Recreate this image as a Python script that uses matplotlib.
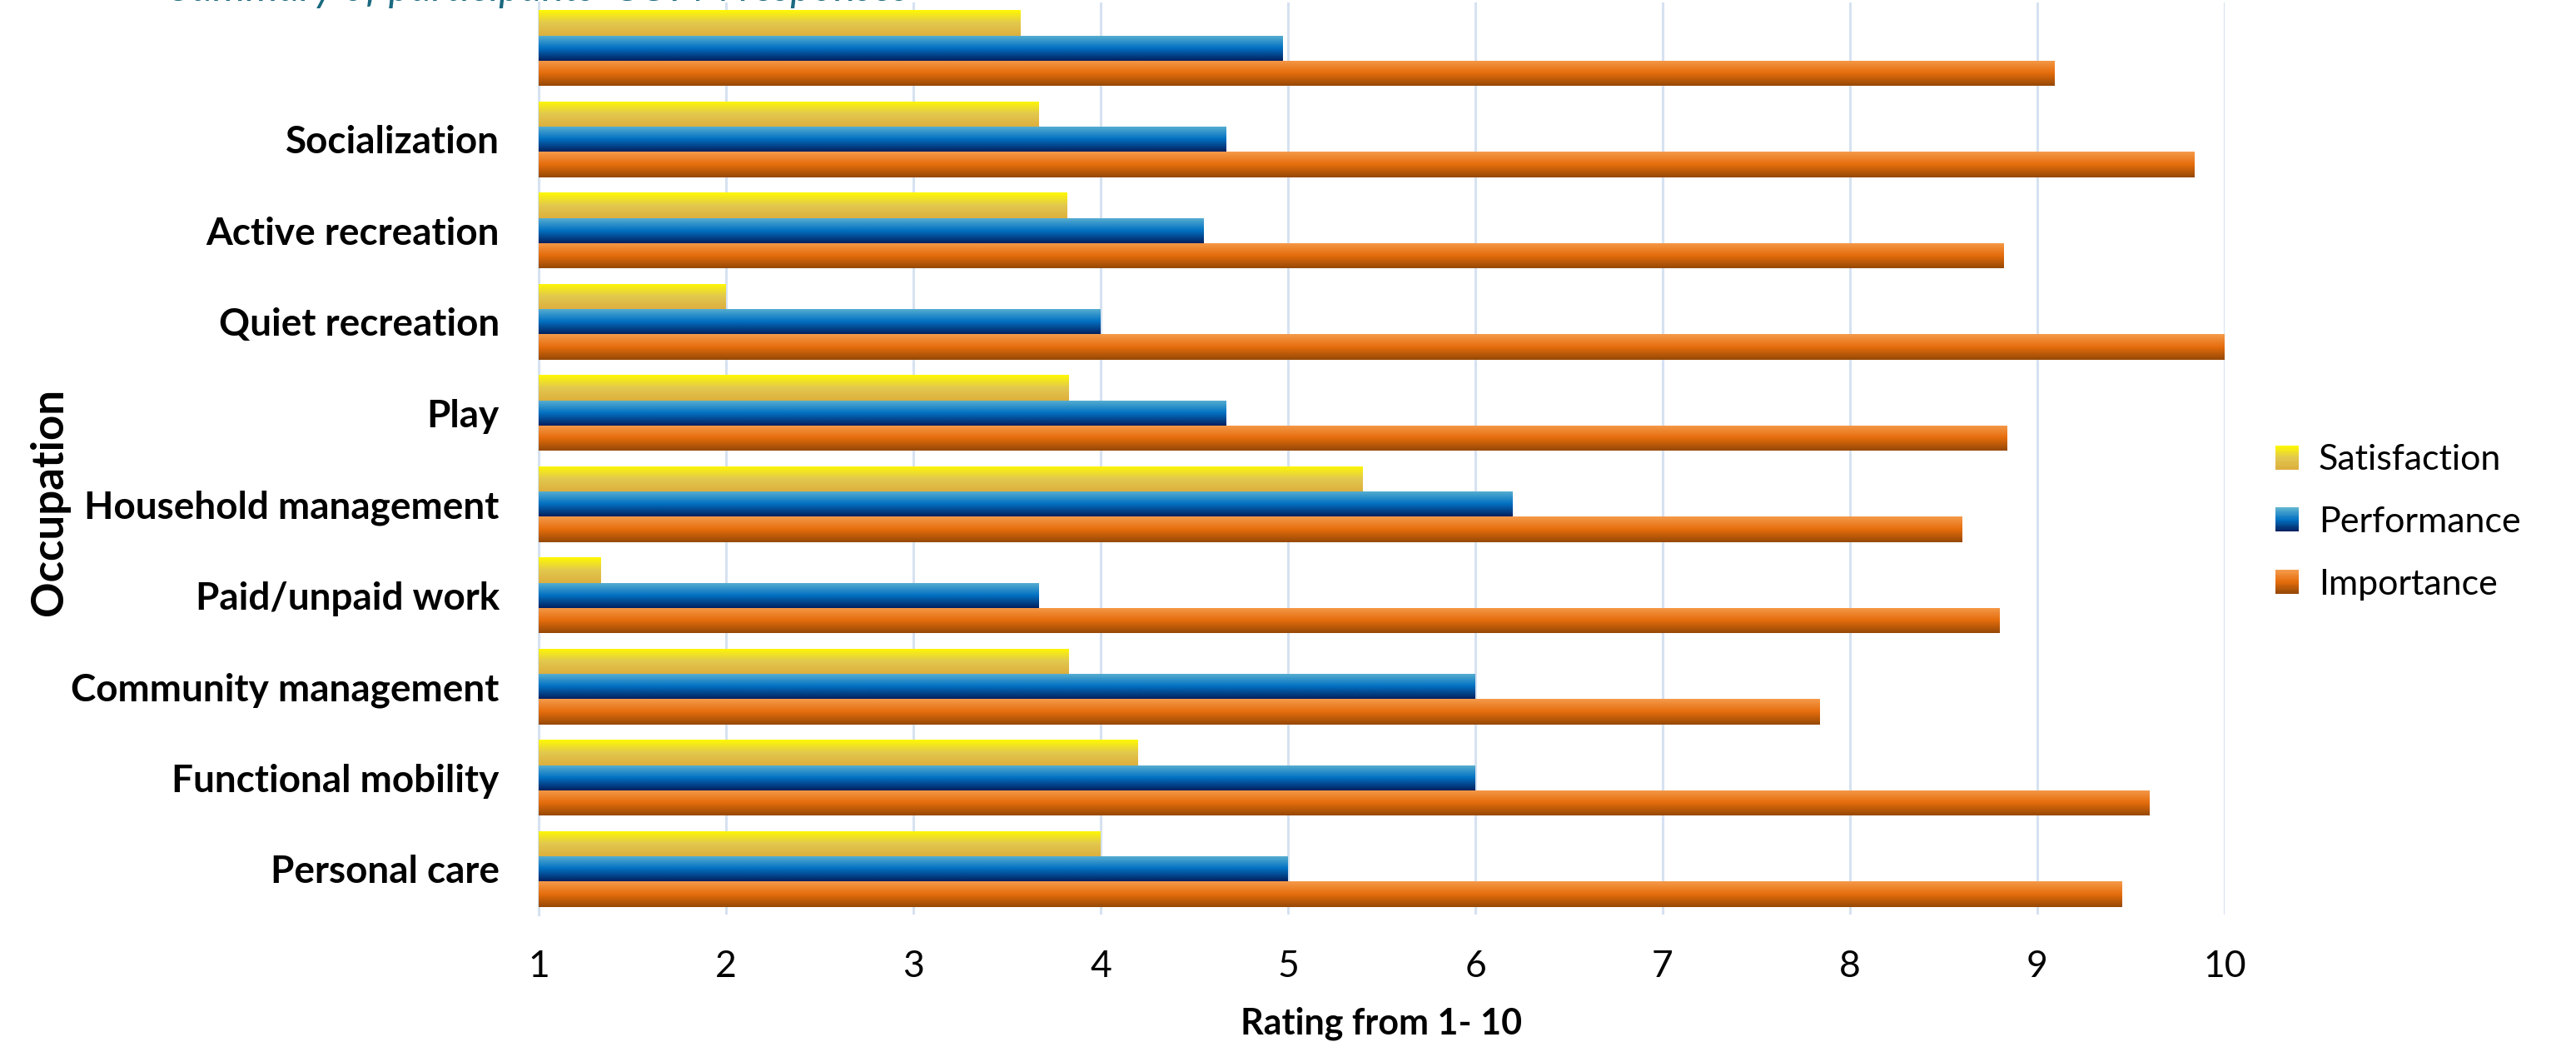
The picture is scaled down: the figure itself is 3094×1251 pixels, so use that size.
import numpy as np
import matplotlib
matplotlib.use("Agg")
import matplotlib.pyplot as plt
from matplotlib.colors import LinearSegmentedColormap
from matplotlib.patches import Patch, Rectangle
from matplotlib.legend_handler import HandlerBase

# COPM ratings per occupation area (listed top to bottom)
occupations = ["", "Socialization", "Active recreation", "Quiet recreation", "Play",
               "Household management", "Paid/unpaid work", "Community management",
               "Functional mobility", "Personal care"]
satisfaction = [3.57, 3.67, 3.82, 2.00, 3.83, 5.40, 1.33, 3.83, 4.20, 4.00]
performance = [4.97, 4.67, 4.55, 4.00, 4.67, 6.20, 3.67, 6.00, 6.00, 5.00]
importance = [9.09, 9.84, 8.82, 10.00, 8.84, 8.60, 8.80, 7.84, 9.60, 9.45]
series_names = ["Satisfaction", "Performance", "Importance"]
x_ticks = list(range(1, 11))

title_text = "Summary of participants' COPM responses"
x_title = "Rating from 1- 10"
y_title = "Occupation"

FONT = ["Lato", "DejaVu Sans"]
plt.rcParams["font.family"] = FONT

# vertical gradient stops (top -> bottom) for each series
gradients = {
    "Satisfaction": ["#FFF900", "#E2C84E", "#DDAF3E"],
    "Performance": ["#5CB2D1", "#0371C3", "#03205E"],
    "Importance": ["#F59B4B", "#E56D0C", "#954806"],
}


class GradientSquareHandler(HandlerBase):
    """Legend key drawn as a small square with a vertical gradient."""

    def create_artists(self, legend, orig_handle, xdescent, ydescent,
                       width, height, fontsize, trans):
        cmap = orig_handle.gradient_cmap
        steps = 24
        artists = []
        for i in range(steps):
            frac = i / (steps - 1)
            y = -ydescent + height * (1 - (i + 1) / steps)
            r = Rectangle((-xdescent, y), width, height / steps + 0.05,
                          facecolor=cmap(frac), edgecolor="none",
                          transform=trans)
            artists.append(r)
        return artists


W, H = 3094, 1251
DPI = 200
fig = plt.figure(figsize=(W / DPI, H / DPI), dpi=DPI)
left_px, right_px, top_px, bottom_px = 647, 2672, 3, 1098
ax = fig.add_axes([left_px / W, 1 - bottom_px / H,
                   (right_px - left_px) / W, (bottom_px - top_px) / H])

n = len(occupations)
pos = np.arange(n)
bar_h = 0.276
offsets = [-bar_h, 0.0, bar_h]
series_values = [satisfaction, performance, importance]
axis_min = x_ticks[0]

handles = []
for name, vals, off in zip(series_names, series_values, offsets):
    stops = gradients[name]
    cmap = LinearSegmentedColormap.from_list(name, stops)
    # bars grow from the axis minimum up to each rating
    bars = ax.barh(pos + off, np.asarray(vals) - axis_min, left=axis_min,
                   height=bar_h, color=stops[1], linewidth=0, zorder=2)
    grad = np.linspace(0, 1, 256).reshape(-1, 1)
    for p in bars:
        x0, w = p.get_x(), p.get_width()
        y0, hh = p.get_y(), p.get_height()
        im = ax.imshow(grad, extent=(x0, x0 + w, y0 + hh, y0), origin="upper",
                       aspect="auto", cmap=cmap, interpolation="bilinear",
                       zorder=3)
        im.set_clip_path(p)
    key = Patch(facecolor=stops[1], edgecolor="none")
    key.gradient_cmap = cmap
    handles.append(key)

ax.set_xlim(x_ticks[0], x_ticks[-1])
ax.set_ylim(n - 0.5, -0.5)
ax.set_xticks(x_ticks)
ax.set_xticklabels([str(t) for t in x_ticks], fontsize=16)
ax.set_yticks(pos)
ax.set_yticklabels(occupations, fontsize=16.5, fontweight="bold")
ax.tick_params(axis="both", length=0)
ax.tick_params(axis="x", pad=15)
ax.tick_params(axis="y", pad=17)

ax.set_axisbelow(True)
ax.grid(axis="x", color="#D6E2F1", linewidth=1.1)
ax.grid(axis="y", visible=False)
for side in ["top", "right", "bottom"]:
    ax.spines[side].set_visible(False)
ax.spines["left"].set_color("#D6E2F1")
ax.spines["left"].set_linewidth(1.1)

ax.set_xlabel(x_title, fontsize=15.5, fontweight="bold", labelpad=10)
ax.set_ylabel(y_title, fontsize=19, fontweight="bold", va="center")
ax.yaxis.set_label_coords((59 - left_px) / (right_px - left_px), 0.453)

fig.text(204 / W, 1 - 1 / H, title_text, fontsize=18, style="italic",
         color="#1B6A80", ha="left", va="baseline")

fig.legend(handles, series_names, loc="center left",
           bbox_to_anchor=(2733 / W, 1 - 627 / H), frameon=False,
           fontsize=15.5, handlelength=0.65, handleheight=0.65,
           handletextpad=0.55, labelspacing=0.85, borderpad=0,
           borderaxespad=0,
           handler_map={Patch: GradientSquareHandler()})

fig.savefig("out.png", dpi=DPI)
